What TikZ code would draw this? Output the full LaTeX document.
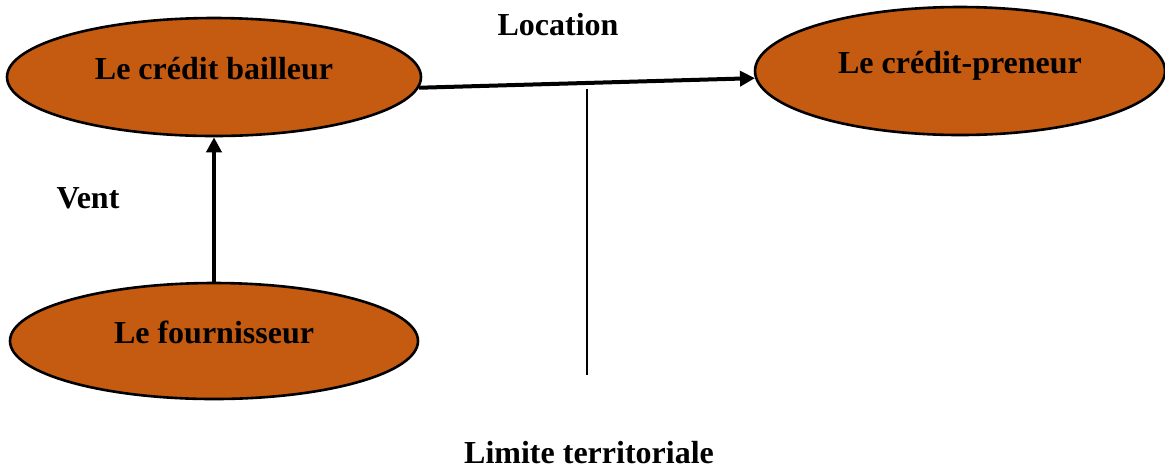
\documentclass[tikz,border=0pt]{standalone}
\usepackage{fontspec}
\setmainfont{Liberation Serif}
\usepackage{xcolor}
\usepackage{tikz}
\usetikzlibrary{arrows.meta, positioning, shapes.geometric}
\definecolor{ovalorange}{RGB}{197,90,17}

\begin{document}
\begin{tikzpicture}[
    x=0.5pt, y=-0.5pt,
    acteur/.style={ellipse, draw=black, line width=1.3pt, fill=ovalorange, inner sep=0pt, text height=11pt, text depth=9pt, font=\bfseries\fontsize{16}{19}\selectfont},
    etiquette/.style={inner sep=0pt, font=\bfseries\fontsize{16}{19}\selectfont},
    fleche/.style={-{Triangle[length=7.5pt, width=7.5pt]}, line width=2pt},
    limite/.style={line width=1.2pt}
]
\useasboundingbox (0,0) rectangle (1165,468);
\node[acteur, minimum width=207pt, minimum height=59pt] (bailleur) at (214,77) {Le crédit bailleur};
\node[acteur, minimum width=205pt, minimum height=64pt] (preneur) at (960,71) {Le crédit-preneur};
\node[acteur, minimum width=204pt, minimum height=58pt] (fournisseur) at (214,341) {Le fournisseur};
\node[etiquette] (location) at (558,25) {Location};
\node[etiquette] (vent) at (88,198) {Vent};
\node[etiquette] (limitetxt) at (589,453) {Limite territoriale};
\coordinate (limhaut) at (587,89);
\coordinate (limbas) at (587,375);

\draw[fleche] (bailleur.-3.4) -- (preneur.182.5);
\draw[fleche] (fournisseur) -- (bailleur);
\draw[limite] (limhaut) -- (limbas);
\end{tikzpicture}
\end{document}
